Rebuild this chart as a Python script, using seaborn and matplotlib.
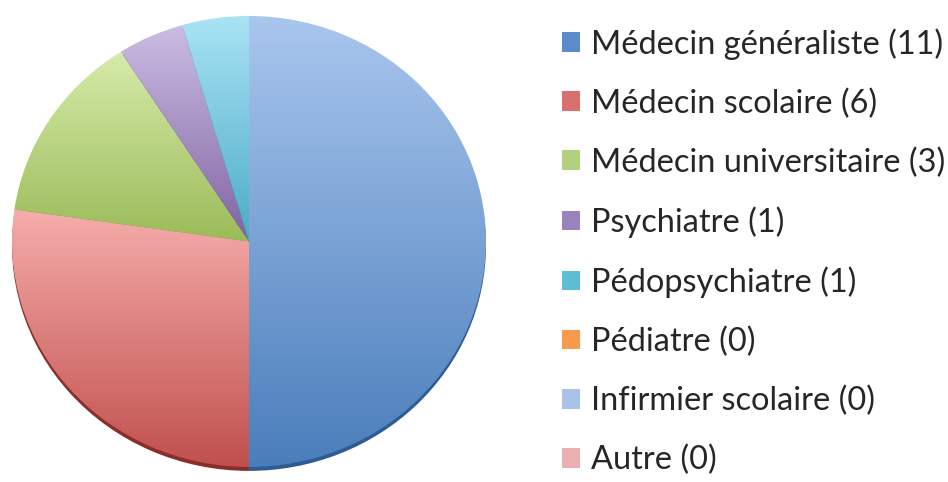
import numpy as np
import matplotlib
matplotlib.use("Agg")
import matplotlib.pyplot as plt
import seaborn as sns
from matplotlib.patches import Patch
from matplotlib.colors import to_rgb

categories = ["Médecin généraliste", "Médecin scolaire", "Médecin universitaire",
              "Psychiatre", "Pédopsychiatre", "Pédiatre", "Infirmier scolaire", "Autre"]
counts = [11, 6, 3, 1, 1, 0, 0, 0]

base_colors = ["#4A7EBB", "#C0504D", "#9BBB59", "#8064A2", "#4BACC6", "#F79646", "#9DB9E3", "#E8A5A4"]
light_colors = ["#A9C6EE", "#F6ADAB", "#D6EBAA", "#CBBDE3", "#AAE3F5", "#FBC9A0", "#C9DAF2", "#F4C7C6"]
legend_colors = ["#5B8BC8", "#D9706D", "#B3D07C", "#9A83BC", "#5EBCD4", "#F89A4E", "#A9C3E8", "#EBB0AF"]
rim_colors = ["#2E5C92", "#8A2E2B", "#6E8A3A", "#5A4578", "#30809A", "#B0601E", "#7090C0", "#C07070"]

sns.set_theme(style="white")
plt.rcParams["font.family"] = ["Lato", "DejaVu Sans"]

fig = plt.figure(figsize=(9.48, 4.82), dpi=100)
fig.patch.set_facecolor("white")
px_unit = 455 / 2.0
rim = 4 / px_unit
ax = fig.add_axes([12 / 948, 1 - 476 / 482, 474 / 948, 460 / 482])

# shadow rim (3D edge)
ax.pie(counts, colors=rim_colors, startangle=90, counterclock=False,
       center=(0, -rim), radius=1, wedgeprops=dict(linewidth=0))

wedges, _ = ax.pie(counts, colors=base_colors, startangle=90, counterclock=False,
                   center=(0, 0), radius=1, wedgeprops=dict(linewidth=0))

for w, c_top, c_bot, n in zip(wedges, light_colors, base_colors, counts):
    if n == 0:
        continue
    ext = w.get_path().get_extents()
    t = np.linspace(0, 1, 256)[:, None]
    top = np.array(to_rgb(c_top))
    bot = np.array(to_rgb(c_bot))
    img = (top[None, None, :] * (1 - t[:, :, None]) + bot[None, None, :] * t[:, :, None])
    w.set_facecolor("none")
    im = ax.imshow(img, extent=(ext.x0, ext.x1, ext.y0, ext.y1), origin="upper",
                   aspect="auto", interpolation="bilinear", zorder=w.get_zorder())
    im.set_clip_path(w)

ax.set_xlim(-1, 1)
ax.set_ylim(-1 - 2 * rim - 0.005, 1)
ax.set_aspect("auto")
ax.axis("off")

labels = [f"{c} ({n})" for c, n in zip(categories, counts)]
handles = [Patch(facecolor=col, edgecolor="none") for col in legend_colors]
fig.legend(handles, labels, loc="upper left", bbox_to_anchor=(562 / 948, 1 - 28 / 482),
           frameon=False, fontsize=23.4, handlelength=0.55, handleheight=0.55,
           handletextpad=0.35, labelspacing=0.88, borderaxespad=0, borderpad=0)

fig.savefig("out.png", dpi=100, facecolor="white")
